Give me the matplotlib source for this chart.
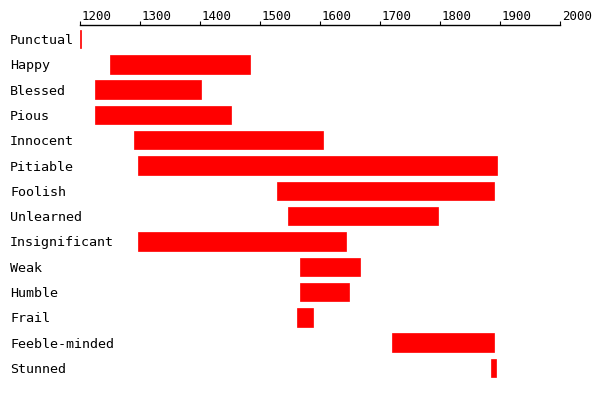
import matplotlib
matplotlib.use("Agg")
import matplotlib.pyplot as plt
import matplotlib.transforms as mtransforms

categories = ["Punctual", "Happy", "Blessed", "Pious", "Innocent", "Pitiable",
              "Foolish", "Unlearned", "Insignificant", "Weak", "Humble", "Frail",
              "Feeble-minded", "Stunned"]
start_years = [1200, 1250, 1225, 1225, 1290, 1297, 1528, 1547, 1297, 1567, 1567, 1562, 1720, 1885]
end_years = [1201, 1483, 1402, 1452, 1605, 1895, 1890, 1797, 1643, 1667, 1648, 1588, 1890, 1893]
x_ticks = [1200, 1300, 1400, 1500, 1600, 1700, 1800, 1900, 2000]

fig = plt.figure(figsize=(6, 4), dpi=100)
ax = fig.add_axes([80/600, 10/400, 480/600, 365/400])

ypos = list(range(len(categories)))
widths = [e - s for s, e in zip(start_years, end_years)]
ax.barh(ypos, widths, left=start_years, height=0.73, color="#ff0000",
        edgecolor="#ff0000", linewidth=0.5)

ax.set_xlim(1200, 2000)
ax.set_ylim(13.87, -0.553)

for s in ["left", "right", "bottom"]:
    ax.spines[s].set_visible(False)
ax.spines["top"].set_linewidth(1.0)
ax.spines["top"].set_color("black")

ax.xaxis.tick_top()
ax.set_xticks(x_ticks)
ax.set_xticklabels([str(t) for t in x_ticks], fontsize=9, family="DejaVu Sans Mono")
ax.tick_params(axis="x", direction="out", length=3.0, width=0.8, pad=-1.6, colors="black")
offset = mtransforms.ScaledTranslation(2/100, 0, fig.dpi_scale_trans)
for lab in ax.get_xticklabels():
    lab.set_horizontalalignment("left")
    lab.set_transform(lab.get_transform() + offset)

ax.set_yticks(ypos)
ax.set_yticklabels(categories, fontsize=9.6, family="DejaVu Sans Mono")
ax.tick_params(axis="y", length=0, pad=50.4)
for lab in ax.get_yticklabels():
    lab.set_horizontalalignment("left")
    lab.set_verticalalignment("center_baseline")

fig.savefig("out.png", dpi=100, facecolor="white")
